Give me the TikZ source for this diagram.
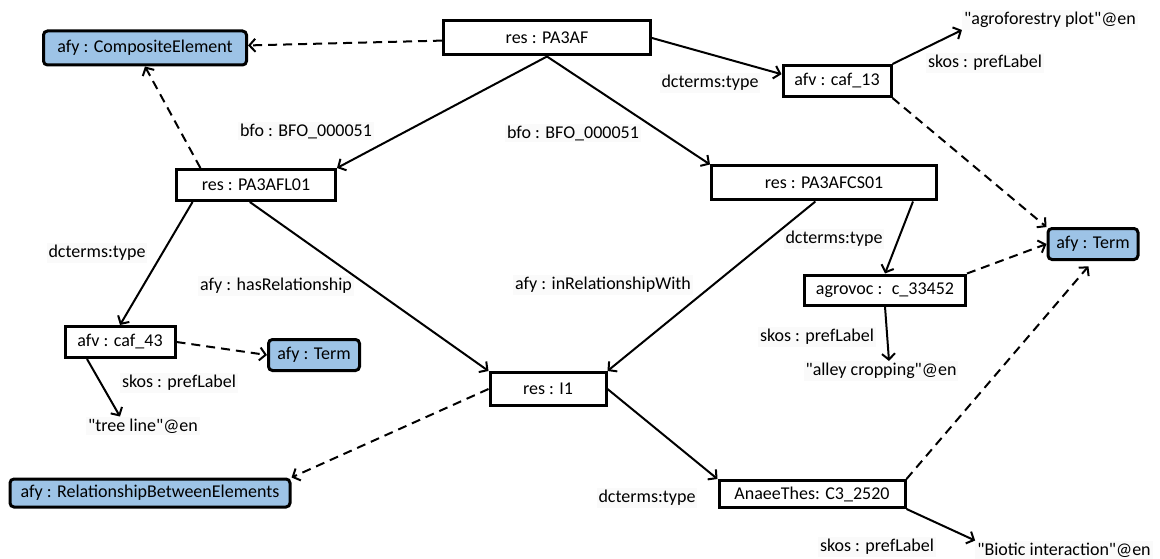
\documentclass[tikz,border=0pt]{standalone}
\usepackage{fontspec}
\setmainfont{Carlito}
\usetikzlibrary{arrows.meta,positioning}
\definecolor{termblue}{RGB}{157,195,230}

\begin{document}
\begin{tikzpicture}[x=1pt,y=-1pt,
    box/.style={draw,line width=3pt,minimum height=31pt,inner sep=2pt,font=\fontsize{18}{20}\selectfont},
    cls/.style={box,fill=termblue,rounded corners=4pt},
    lbl/.style={fill=black!2,inner sep=2pt,font=\fontsize{18}{20}\selectfont},
    rel/.style={line width=2pt,-{Straight Barb[length=6pt,width=13pt]}},
    isa/.style={rel,dash pattern=on 9pt off 6pt}]
	\useasboundingbox (0,0) rectangle (1160,559);
	% resources and classes
	\node[box,minimum width=207pt,minimum height=34pt] (pa3af) at (547,38) {res : PA3AF};
	\node[cls,minimum width=203pt,minimum height=34pt] (composite) at (145,48) {afy : CompositeElement};
	\node[box,minimum width=108pt] (caf13) at (837,81) {afv : caf\_13};
	\node[box,minimum width=159pt] (l01) at (256,185) {res : PA3AFL01};
	\node[box,minimum width=225pt,minimum height=34pt] (cs01) at (824,183) {res : PA3AFCS01};
	\node[cls,minimum width=90pt] (termR) at (1093,244) {afy : Term};
	\node[box,minimum width=161pt,minimum height=30pt] (agrovoc) at (885,290) {agrovoc : \ c\_33452};
	\node[box,minimum width=110pt] (caf43) at (120,342) {afv : caf\_43};
	\node[cls,minimum width=91pt] (termL) at (314,355) {afy : Term};
	\node[box,minimum width=116pt,minimum height=33pt] (i1) at (548,389) {res : I1};
	\node[cls,minimum width=280pt,minimum height=28pt] (rbe) at (150,493) {afy : RelationshipBetweenElements};
	\node[box,minimum width=186pt,minimum height=27pt] (anaee) at (812,494) {AnaeeThes: C3\_2520};
	% literals
	\node[lbl] (agro) at (1050,20) {\textquotedbl agroforestry plot\textquotedbl @en};
	\node[lbl] (alley) at (881,371) {\textquotedbl alley cropping\textquotedbl @en};
	\node[lbl] (tree) at (143,426) {\textquotedbl tree line\textquotedbl @en};
	\node[lbl] (biotic) at (1064,550) {\textquotedbl Biotic interaction\textquotedbl @en};
	% property labels
	\foreach \n/\x/\y/\t in {lblTypeA/710/83/dcterms:type, lblBfoA/306/131/bfo : BFO\_000051,
	    lblBfoB/573/133/bfo : BFO\_000051, lblPrefA/985/63/skos : prefLabel,
	    lblTypeB/97/253/dcterms:type, lblHas/276/286/afy : hasRelationship,
	    lblIn/603/285/afy : inRelationshipWith, lblTypeC/834/239/dcterms:type,
	    lblPrefB/817/337/skos : prefLabel, lblPrefC/179/383/skos : prefLabel,
	    lblTypeD/647/498/dcterms:type, lblPrefD/877/547/skos : prefLabel}
		\node[lbl] (\n) at (\x,\y) {\t};
	% connectors
	\draw[isa] (pa3af) -- (composite);
	\draw[rel] (pa3af.east) -- (caf13.173);
	\draw[rel] (pa3af.south) -- (l01.north east);
	\draw[rel] (pa3af.south) -- (cs01.north west);
	\draw[rel] (caf13.north east) -- (agro.south west);
	\draw[isa] (caf13.south east) -- (termR.north west);
	\draw[isa] (l01.163) -- (composite.south);
	\draw[rel] (l01.195) -- (caf43.north);
	\draw[rel] (l01.250) -- (i1.north west);
	\draw[rel] (cs01.245) -- (i1.north east);
	\draw[rel] ([xshift=89pt]cs01.south) -- (agrovoc.north);
	\draw[isa] (agrovoc.north east) -- (termR.west);
	\draw[rel] (agrovoc.south) -- ([xshift=8pt]alley.north);
	\draw[isa] (caf43.east) -- (termL.west);
	\draw[rel] ([xshift=-33pt]caf43.south) -- ([xshift=-23pt]tree.north);
	\draw[isa] (i1.west) -- (rbe.north east);
	\draw[rel] (i1.east) -- (anaee.north west);
	\draw[isa,shorten >=7pt] (anaee.north east) -- (termR.south);
	\draw[rel] (anaee.south east) -- (biotic.north west);
\end{tikzpicture}
\end{document}
